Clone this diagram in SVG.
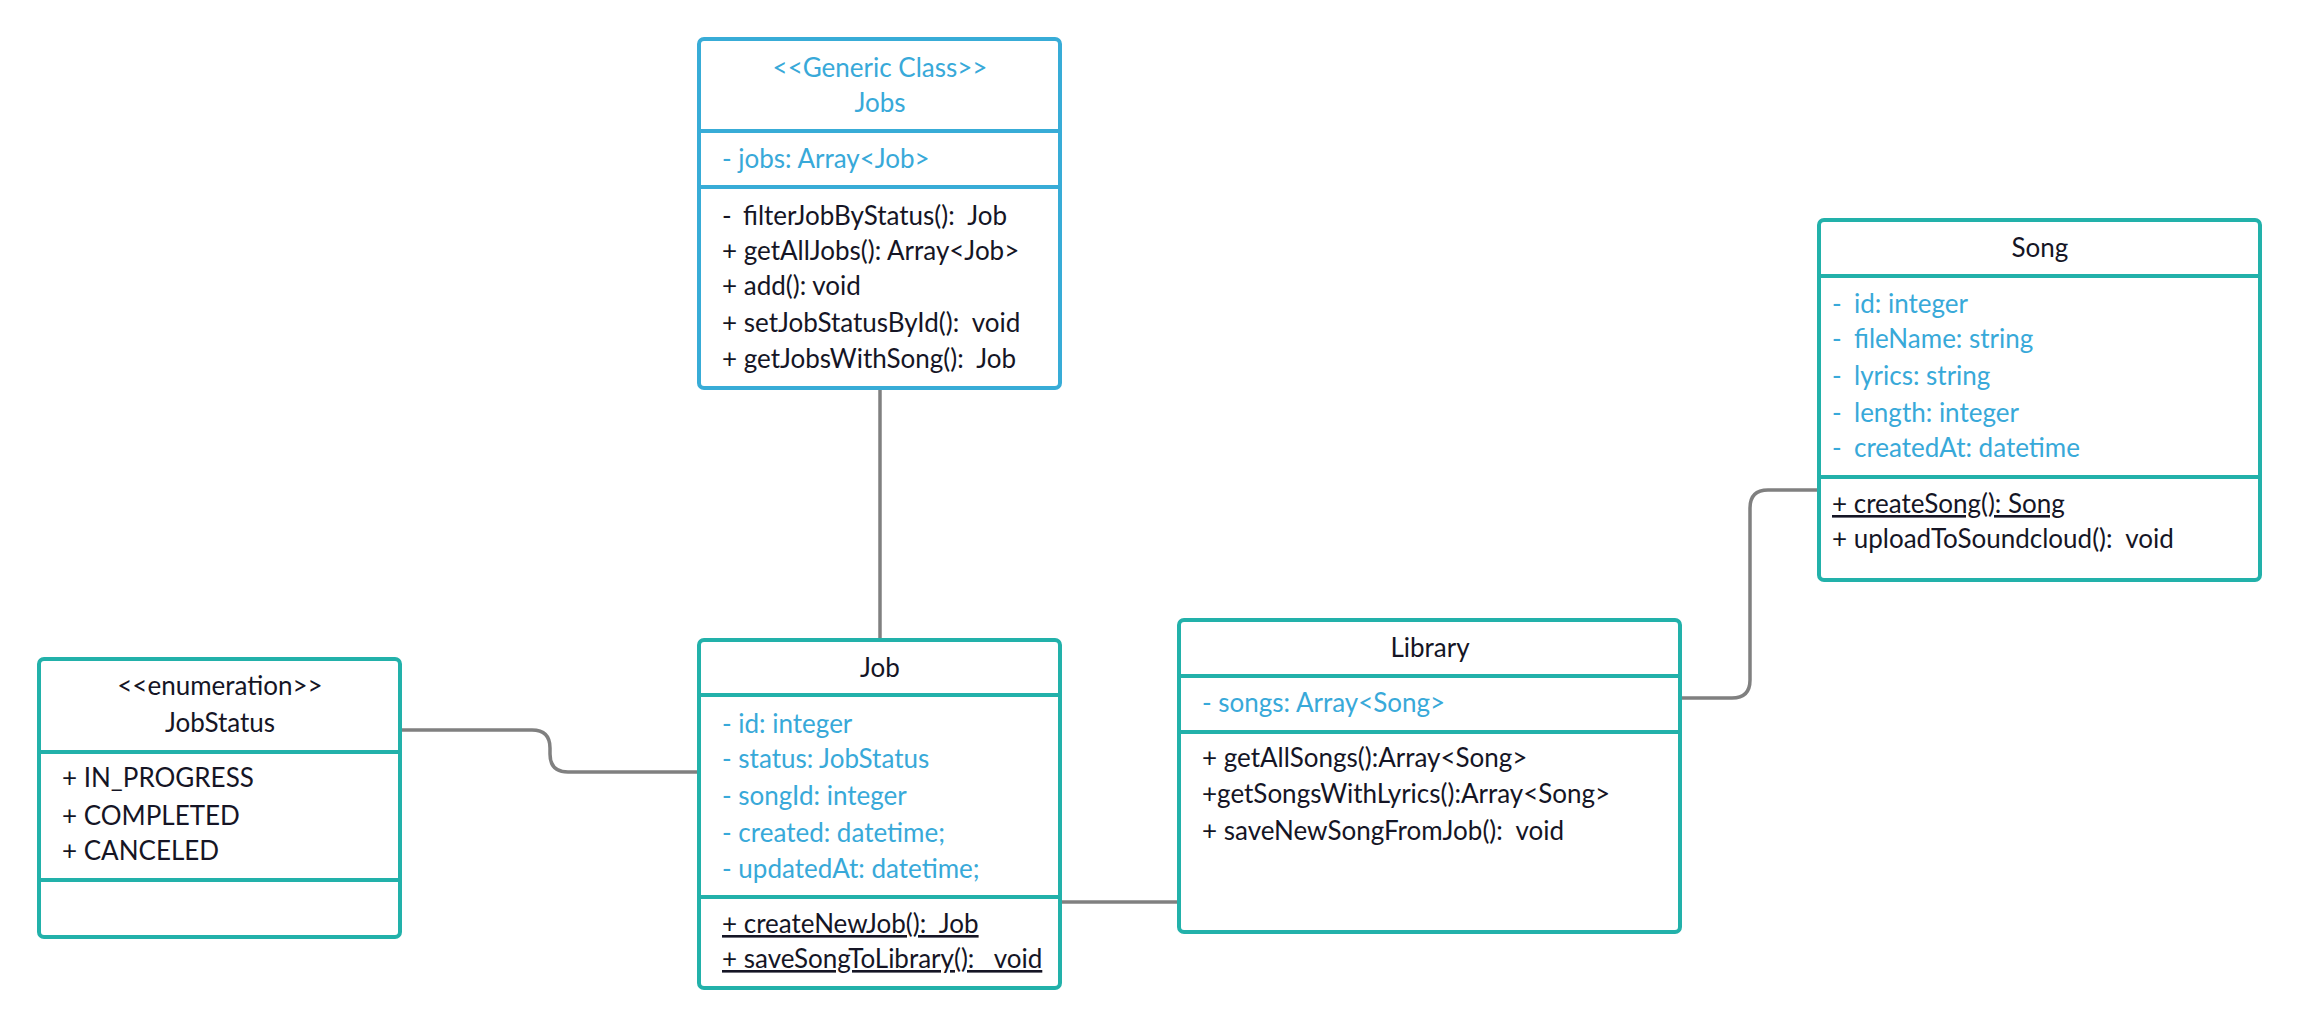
<svg xmlns="http://www.w3.org/2000/svg" width="2300" height="1028" viewBox="0 0 2300 1028">
  <style>
    .box { fill: #ffffff; stroke: #22b1aa; stroke-width: 4; }
    .box.generic { stroke: #38acd7; }
    .div { stroke: #22b1aa; stroke-width: 4; }
    .div.generic { stroke: #38acd7; }
    .conn { fill: none; stroke: #808080; stroke-width: 3.5; }
    text { font-family: Lato, "Open Sans", "Liberation Sans", sans-serif; font-size: 26px; white-space: pre; }
    .dark { fill: #151525; }
    .blue { fill: #38a9d9; }
    .mid { text-anchor: middle; }
    .ul { text-decoration: underline; }
  </style>

  <!-- associations -->
  <g id="connectors">
    <path class="conn" d="M880 388 V640"/>
    <path class="conn" d="M400 730 H532 Q550 730 550 748 V754 Q550 772 568 772 H699"/>
    <path class="conn" d="M1060 902 H1179"/>
    <path class="conn" d="M1680 698 H1732 Q1750 698 1750 680 V508 Q1750 490 1768 490 H1819"/>
  </g>

  <!-- generic collection class -->
  <g id="jobs">
    <rect class="box generic" x="699" y="39" width="361" height="349" rx="5"/>
    <line class="div generic" x1="699" y1="131" x2="1060" y2="131"/>
    <line class="div generic" x1="699" y1="187" x2="1060" y2="187"/>
    <text class="blue mid" x="880" y="77">&lt;&lt;Generic Class&gt;&gt;</text>
    <text class="blue mid" x="880" y="112">Jobs</text>
    <text class="blue" x="722" y="168">- jobs: Array&lt;Job&gt;</text>
    <text class="dark" x="722" y="225">-<tspan x="743">filterJobByStatus():  Job</tspan></text>
    <text class="dark" x="722" y="260">+ getAllJobs(): Array&lt;Job&gt;</text>
    <text class="dark" x="722" y="295">+ add(): void</text>
    <text class="dark" x="722" y="332">+ setJobStatusById():  void</text>
    <text class="dark" x="722" y="368">+ getJobsWithSong():  Job</text>
  </g>

  <!-- job entity -->
  <g id="job">
    <rect class="box" x="699" y="640" width="361" height="348" rx="5"/>
    <line class="div" x1="699" y1="695" x2="1060" y2="695"/>
    <line class="div" x1="699" y1="897" x2="1060" y2="897"/>
    <text class="dark mid" x="880" y="677">Job</text>
    <text class="blue" x="722" y="733">- id: integer</text>
    <text class="blue" x="722" y="768">- status: JobStatus</text>
    <text class="blue" x="722" y="805">- songId: integer</text>
    <text class="blue" x="722" y="842">- created: datetime;</text>
    <text class="blue" x="722" y="878">- updatedAt: datetime;</text>
    <text class="dark ul" x="722" y="933">+ createNewJob():  Job</text>
    <text class="dark ul" x="722" y="968">+ saveSongToLibrary():   void</text>
  </g>

  <!-- status enumeration -->
  <g id="jobstatus">
    <rect class="box" x="39" y="659" width="361" height="278" rx="5"/>
    <line class="div" x1="39" y1="752" x2="400" y2="752"/>
    <line class="div" x1="39" y1="880" x2="400" y2="880"/>
    <text class="dark mid" x="220" y="695">&lt;&lt;enumeration&gt;&gt;</text>
    <text class="dark mid" x="220" y="732">JobStatus</text>
    <text class="dark" x="62" y="787">+ IN_PROGRESS</text>
    <text class="dark" x="62" y="825">+ COMPLETED</text>
    <text class="dark" x="62" y="860">+ CANCELED</text>
  </g>

  <!-- library -->
  <g id="library">
    <rect class="box" x="1179" y="620" width="501" height="312" rx="5"/>
    <line class="div" x1="1179" y1="676" x2="1680" y2="676"/>
    <line class="div" x1="1179" y1="732" x2="1680" y2="732"/>
    <text class="dark mid" x="1430" y="657">Library</text>
    <text class="blue" x="1202" y="712">- songs: Array&lt;Song&gt;</text>
    <text class="dark" x="1202" y="767">+ getAllSongs():Array&lt;Song&gt;</text>
    <text class="dark" x="1202" y="803">+getSongsWithLyrics():Array&lt;Song&gt;</text>
    <text class="dark" x="1202" y="840">+ saveNewSongFromJob():  void</text>
  </g>

  <!-- song -->
  <g id="song">
    <rect class="box" x="1819" y="220" width="441" height="360" rx="5"/>
    <line class="div" x1="1819" y1="276" x2="2260" y2="276"/>
    <line class="div" x1="1819" y1="477" x2="2260" y2="477"/>
    <text class="dark mid" x="2040" y="257">Song</text>
    <text class="blue" x="1832" y="313">-<tspan x="1854">id: integer</tspan></text>
    <text class="blue" x="1832" y="348">-<tspan x="1854">fileName: string</tspan></text>
    <text class="blue" x="1832" y="385">-<tspan x="1854">lyrics: string</tspan></text>
    <text class="blue" x="1832" y="422">-<tspan x="1854">length: integer</tspan></text>
    <text class="blue" x="1832" y="457">-<tspan x="1854">createdAt: datetime</tspan></text>
    <text class="dark ul" x="1832" y="513">+ createSong(): Song</text>
    <text class="dark" x="1832" y="548">+ uploadToSoundcloud():  void</text>
  </g>
</svg>
